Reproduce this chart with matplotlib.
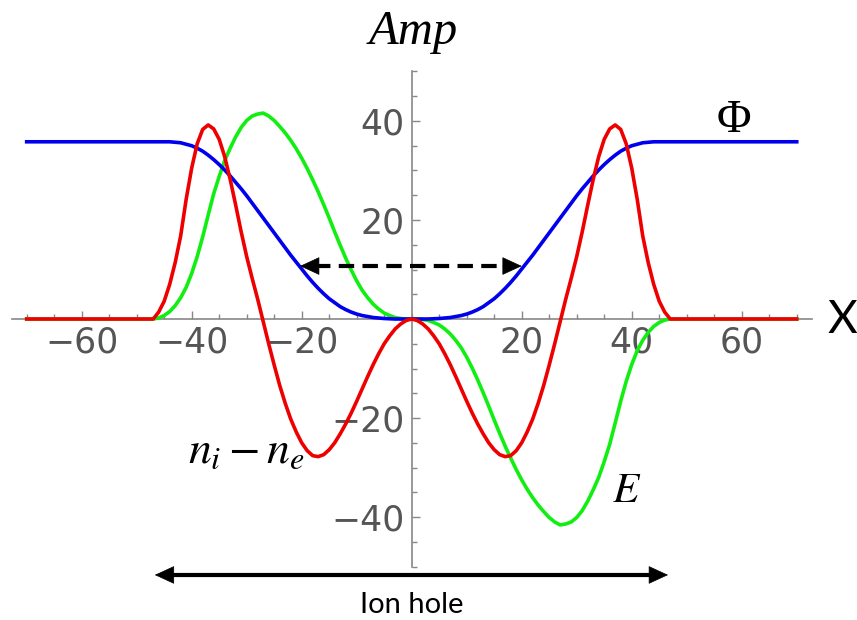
import numpy as np
import matplotlib
matplotlib.use("Agg")
import matplotlib.pyplot as plt

plt.rcParams['mathtext.fontset'] = 'stix'

# sample positions (x) for the three curves
x = [-70] + list(range(-47, 48)) + [70]

# potential Phi (blue)
phi = ([35.8,
        35.8, 35.8, 35.8, 35.8, 35.7, 35.6, 35.3, 35.0, 34.5, 33.9,
        33.1, 32.2, 31.2, 30.1, 28.9, 27.6, 26.3, 24.9, 23.4, 21.9,
        20.4, 18.9, 17.4, 15.9, 14.4, 12.9, 11.5, 10.1, 8.7, 7.4,
        6.2, 5.1, 4.1, 3.3, 2.5, 1.9, 1.4, 1.0, 0.7, 0.5,
        0.3, 0.2, 0.1, 0.05, 0, 0, 0,
        0,
        0, 0, 0, 0.05, 0.1, 0.2, 0.3, 0.5, 0.7, 1.0,
        1.4, 1.9, 2.5, 3.3, 4.1, 5.1, 6.2, 7.4, 8.7, 10.1,
        11.5, 12.9, 14.4, 15.9, 17.4, 18.9, 20.4, 21.9, 23.4, 24.9,
        26.3, 27.6, 28.9, 30.1, 31.2, 32.2, 33.1, 33.9, 34.5, 35.0,
        35.3, 35.6, 35.7, 35.8, 35.8, 35.8, 35.8,
        35.8])

# electric field E (green)
efield = ([0,
           0, 0.2, 0.7, 1.5, 2.7, 4.3, 6.4, 9.2, 12.6, 16.6,
           21.0, 25.3, 28.8, 32.0, 34.5, 36.8, 38.7, 40.1, 41.0, 41.4,
           41.6, 41.0, 40.1, 38.9, 37.6, 36.1, 34.4, 32.5, 30.4, 28.1,
           25.7, 23.1, 20.4, 17.6, 14.9, 12.3, 9.9, 7.7, 5.8, 4.3,
           3.0, 2.0, 1.2, 0.7, 0.3, 0.1, 0,
           0,
           0, -0.1, -0.3, -0.7, -1.2, -2.0, -3.0, -4.3, -5.8, -7.7,
           -9.9, -12.3, -14.9, -17.6, -20.4, -23.1, -25.7, -28.1, -30.4, -32.5,
           -34.4, -36.1, -37.6, -38.9, -40.1, -41.0, -41.6, -41.4, -41.0, -40.1,
           -38.7, -36.8, -34.5, -32.0, -28.8, -25.3, -21.0, -16.6, -12.6, -9.2,
           -6.4, -4.3, -2.7, -1.5, -0.7, -0.2, 0,
           0])

# charge density n_i - n_e (red)
charge = ([0,
           0, 1.4, 3.6, 7.0, 11.4, 16.8, 24.2, 30.5, 35.4, 38.3,
           39.2, 38.4, 36.3, 32.8, 28.2, 23.0, 17.6, 12.6, 8.2, 4.0,
           -0.5, -5.0, -9.3, -13.4, -17.0, -20.2, -22.8, -25.0, -26.6, -27.6,
           -27.8, -27.4, -26.4, -25.0, -23.2, -21.2, -19.0, -16.6, -14.1, -11.6,
           -9.2, -7.0, -5.0, -3.4, -2.0, -1.0, -0.3,
           0,
           -0.3, -1.0, -2.0, -3.4, -5.0, -7.0, -9.2, -11.6, -14.1, -16.6,
           -19.0, -21.2, -23.2, -25.0, -26.4, -27.4, -27.8, -27.6, -26.6, -25.0,
           -22.8, -20.2, -17.0, -13.4, -9.3, -5.0, -0.5, 4.0, 8.2, 12.6,
           17.6, 23.0, 28.2, 32.8, 36.3, 38.4, 39.2, 38.3, 35.4, 30.5,
           24.2, 16.8, 11.4, 7.0, 3.6, 1.4, 0,
           0])

xticks = [-60, -40, -20, 20, 40, 60]
yticks = [-40, -20, 20, 40]

W, H = 857, 620
fig = plt.figure(figsize=(W / 100, H / 100), dpi=100)
ax = fig.add_axes([0, 0, 1, 1])
ax.set_xlim(-74.85, 80.96)
ax.set_ylim(-60.8, 64.44)

ax.plot(x, efield, color="#11ee11", lw=2.6, zorder=3)
ax.plot(x, phi, color="#0000ee", lw=2.6, zorder=4)
ax.plot(x, charge, color="#ee0000", lw=2.6, zorder=5)

axc = "#888888"
for s in ["top", "right"]:
    ax.spines[s].set_visible(False)
ax.spines["left"].set_position(("data", 0))
ax.spines["bottom"].set_position(("data", 0))
ax.spines["left"].set_bounds(-50, 50)
ax.spines["bottom"].set_bounds(-72.7, 72.7)
for s in ["left", "bottom"]:
    ax.spines[s].set_color(axc)
    ax.spines[s].set_linewidth(1.2)

ax.set_xticks(xticks)
ax.set_xticklabels([str(v).replace("-", "\u2212") for v in xticks])
ax.set_yticks(yticks)
ax.set_yticklabels([str(v).replace("-", "\u2212") for v in yticks])
ax.set_xticks(np.arange(-70, 71, 5), minor=True)
ax.set_yticks(np.arange(-50, 51, 5), minor=True)
ax.tick_params(which="both", direction="in", color=axc, width=1)
ax.tick_params(which="major", length=6)
ax.tick_params(which="minor", length=3.5)
ax.tick_params(axis="x", pad=5)
ax.tick_params(axis="y", pad=5)
for lab in ax.get_xticklabels() + ax.get_yticklabels():
    lab.set_family(["Liberation Sans Narrow", "DejaVu Sans"])
    lab.set_fontsize(25)
    lab.set_color("#555555")


def double_arrow(x0, x1, y, ls, hl, clip=True):
    # shaft, then two solid triangular heads
    ax.plot([x0 + hl * 0.8, x1 - hl * 0.8], [y, y], color="k", lw=3,
            ls=ls, solid_capstyle="butt", dash_capstyle="butt",
            zorder=6, clip_on=clip)
    style = "-|>,head_length=0.65,head_width=0.3"
    for tip, tail in [(x0, x0 + hl), (x1, x1 - hl)]:
        ax.annotate("", xy=(tip, y), xytext=(tail, y),
                    arrowprops=dict(arrowstyle=style, mutation_scale=20,
                                    lw=0.5, color="k", shrinkA=0, shrinkB=0),
                    annotation_clip=False, zorder=6)


double_arrow(-20.3, 20.0, 10.7, (0, (3.7, 2.0)), 3.4)
double_arrow(-46.7, 46.6, -51.7, "-", 3.0, clip=False)

# labels (figure pixel positions)
def ftext(px, py, s, **kw):
    fig.text(px / W, 1 - py / H, s, **kw)

ftext(413, 43.5, "Amp", family="Liberation Serif", style="italic",
      fontsize=35, ha="center", va="baseline")
ftext(734, 121, "\u03a6", family="Liberation Serif", fontsize=34,
      ha="center", va="center")
ftext(188, 463, r"$n_i - n_e$", fontsize=33, ha="left", va="baseline")
ftext(627, 490, r"$E$", fontsize=31, ha="center", va="center")
ftext(842.5, 320, "X", family="Lato", fontsize=33, ha="center", va="center")
ftext(412, 605, "Ion hole", family="Lato", fontsize=21, ha="center",
      va="center")

fig.savefig("out.png", dpi=100)
